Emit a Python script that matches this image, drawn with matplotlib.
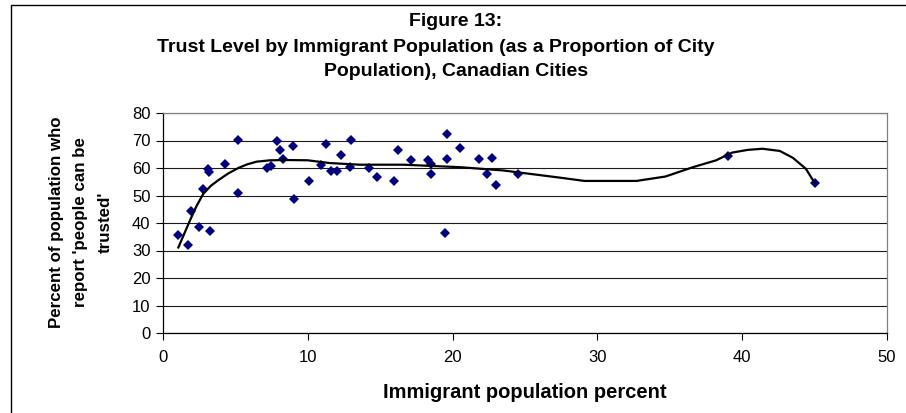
import matplotlib

matplotlib.use("Agg")

import matplotlib.pyplot as plt  # noqa: E402
from matplotlib.patches import Rectangle  # noqa: E402

# city observations: immigrant share (%) vs. share saying people can be trusted (%)
immigrant_pct = [
    1.06, 1.75, 1.9, 2.48, 2.78, 3.1, 3.17, 3.27, 4.28, 5.2, 5.2,
    7.2, 7.45, 7.88, 8.07, 8.3, 8.96, 9.05, 10.07, 10.94, 11.29,
    11.58, 12.05, 12.32, 12.9, 13.0, 14.25, 14.8, 15.98, 16.25,
    17.1, 18.3, 18.5, 18.5, 19.6, 19.6, 19.5, 20.5, 21.8, 22.7,
    22.35, 23.0, 24.5, 39.0, 45.0,
]
trust_pct = [
    35.8, 32.1, 44.5, 38.7, 52.4, 59.7, 58.5, 37.0, 61.3, 70.1, 50.8,
    60.0, 60.9, 69.9, 66.4, 63.2, 68.0, 48.9, 55.2, 61.1, 68.6,
    58.9, 58.9, 64.9, 60.4, 70.2, 60.0, 56.7, 55.2, 66.4,
    62.8, 62.8, 61.3, 57.7, 72.3, 63.3, 36.4, 67.4, 63.3, 63.7,
    57.8, 54.0, 57.9, 64.4, 54.6,
]

# smoothed trend read along its path
trend_x = [
    1.06, 1.5, 1.86, 2.3, 2.78, 3.3, 3.8, 4.5, 5.2, 5.8, 6.46, 7.4,
    8.5, 10.0, 11.5, 13.6, 16.6, 20.5, 23.5, 27.4, 29.1, 32.7, 34.7,
    36.6, 38.2, 39.3, 40.4, 41.4, 42.6, 43.5, 44.4, 45.0,
]
trend_y = [
    31.1, 36.5, 40.9, 46.0, 50.6, 53.5, 55.5, 58.0, 60.0, 61.3, 62.3, 62.8,
    62.9, 62.8, 61.8, 61.2, 61.2, 60.3, 59.1, 56.5, 55.3, 55.3, 56.9,
    60.3, 62.8, 65.6, 66.6, 67.0, 66.2, 63.7, 59.7, 54.6,
]

x_ticks = [0, 10, 20, 30, 40, 50]
y_ticks = [0, 10, 20, 30, 40, 50, 60, 70, 80]

title_lines = [
    "Figure 13:",
    "Trust Level by Immigrant Population (as a Proportion of City",
    "Population), Canadian Cities",
]

plt.rcParams["font.family"] = ["Liberation Sans", "DejaVu Sans"]

W, H = 906, 413
fig = plt.figure(figsize=(W / 100, H / 100), dpi=100)
ax = fig.add_axes([163 / W, 1 - 333 / H, 724 / W, 220 / H])

# chart-area frame (runs off the right and bottom edges)
fig.patches.append(Rectangle((10.5 / W, -0.2), 1.0, 1.2 - 5 / H,
                             transform=fig.transFigure, fill=False,
                             edgecolor="black", lw=1.0))

ax.plot(immigrant_pct, trust_pct, ls="", marker="D", ms=5.2, mew=0,
        color="#000080", zorder=3)
ax.plot(trend_x, trend_y, color="black", lw=1.6, zorder=4)

ax.set_xlim(0, 50)
ax.set_ylim(0, 80)
ax.set_xticks(x_ticks)
ax.set_yticks(y_ticks)
ax.yaxis.grid(True, color="#1a1a1a", lw=0.8)
ax.set_axisbelow(True)
ax.tick_params(axis="both", direction="out", length=5, width=0.8,
               labelsize=12, pad=4)
ax.tick_params(axis="x", pad=7)
for side in ("top", "right"):
    ax.spines[side].set_color("#808080")
for side in ("left", "bottom"):
    ax.spines[side].set_color("black")
for sp in ax.spines.values():
    sp.set_linewidth(0.9)

ax.set_xlabel("Immigrant population percent", fontsize=14.5,
              fontweight="bold", labelpad=13)

# axis title sits well clear of the tick labels, centred on the plot height
fig.text(81 / W, 1 - 222 / H,
         "Percent of population who\nreport 'people can be\ntrusted'",
         rotation=90, ha="center", va="center", fontsize=12.2,
         fontweight="bold", linespacing=1.75, multialignment="center")

title_pos = [(456, 22), (436, 47), (456, 72)]
for line, (tx, ty) in zip(title_lines, title_pos):
    fig.text(tx / W, 1 - ty / H, line, ha="center", va="center",
             fontsize=14, fontweight="bold")

fig.savefig("out.png", dpi=100)
plt.close(fig)
